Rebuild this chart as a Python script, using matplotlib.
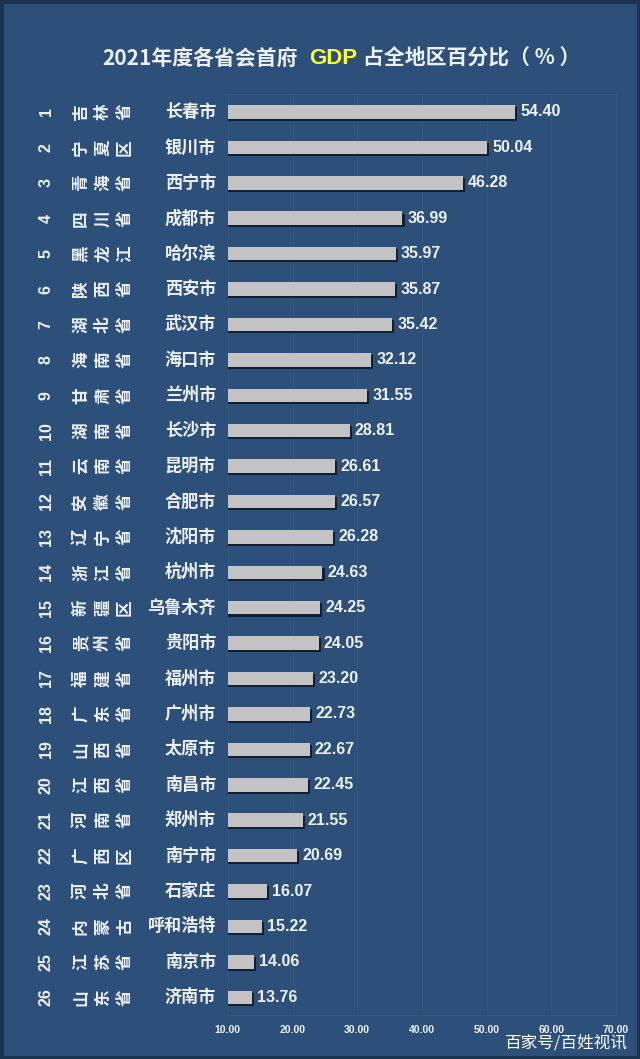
import matplotlib
matplotlib.use("Agg")
import matplotlib.pyplot as plt
import matplotlib.patheffects as pe
from matplotlib.transforms import blended_transform_factory
import numpy as np

plt.rcParams['font.family'] = ['Noto Sans CJK SC', 'DejaVu Sans']

ranks = [str(i) for i in range(1, 27)]
provinces = ['吉林省', '宁夏区', '青海省', '四川省', '黑龙江', '陕西省', '湖北省', '海南省',
             '甘肃省', '湖南省', '云南省', '安徽省', '辽宁省', '浙江省', '新疆区', '贵州省',
             '福建省', '广东省', '山西省', '江西省', '河南省', '广西区', '河北省', '内蒙古',
             '江苏省', '山东省']
cities = ['长春市', '银川市', '西宁市', '成都市', '哈尔滨', '西安市', '武汉市', '海口市',
          '兰州市', '长沙市', '昆明市', '合肥市', '沈阳市', '杭州市', '乌鲁木齐', '贵阳市',
          '福州市', '广州市', '太原市', '南昌市', '郑州市', '南宁市', '石家庄', '呼和浩特',
          '南京市', '济南市']
values = [54.40, 50.04, 46.28, 36.99, 35.97, 35.87, 35.42, 32.12, 31.55, 28.81,
          26.61, 26.57, 26.28, 24.63, 24.25, 24.05, 23.20, 22.73, 22.67, 22.45,
          21.55, 20.69, 16.07, 15.22, 14.06, 13.76]
xticks = [10, 20, 30, 40, 50, 60, 70]

bg = '#2c5079'
fg = '#eef0f2'

fig = plt.figure(figsize=(6.4, 10.59), dpi=100)
fig.patch.set_facecolor(bg)
fig.patch.set_edgecolor('#1b3250')
fig.patch.set_linewidth(5)

ax = fig.add_axes([0.356, 0.0416, 0.6065, 0.8694])
ax.set_facecolor(bg)
y = np.arange(len(values))
bars = ax.barh(y, values, height=0.38, color='#c3c3c5', zorder=3)
for b in bars:
    b.set_path_effects([pe.SimplePatchShadow(offset=(1.5, -1.5), shadow_rgbFace='#0d1a2a', alpha=0.9),
                        pe.Normal()])
ax.set_xlim(10, 70)
ax.set_ylim(len(values) - 0.5, -0.5)
ax.set_xticks(xticks)
ax.set_xticklabels(['%.2f' % t for t in xticks], family='Liberation Sans',
                   fontweight='bold', fontsize=7.5, color=fg)
ax.set_yticks([])
ax.tick_params(axis='x', length=0, pad=7)
ax.grid(axis='x', color='#36597f', linewidth=0.7, zorder=0)
for s in ax.spines.values():
    s.set_color('#36597f')
    s.set_linewidth(0.7)

for i, v in enumerate(values):
    ax.text(v + 0.8, i, '%.2f' % v, va='center', ha='left', color=fg,
            family='Liberation Sans', fontweight='bold', fontsize=11.5)

tr = blended_transform_factory(fig.transFigure, ax.transData)
for i in range(len(values)):
    ax.text(46 / 640, i, ranks[i], rotation=90, ha='center', va='center', color=fg,
            family='Liberation Sans', fontweight='bold', fontsize=11.5, transform=tr)
    for j, ch in enumerate(provinces[i]):
        ax.text((81 + 22 * j) / 640, i, ch, rotation=90, ha='center', va='center',
                color=fg, fontweight='bold', fontsize=12, transform=tr)
    ax.text(216 / 640, i, cities[i], ha='right', va='center', color=fg,
            fontweight='bold', fontsize=12.3, transform=tr)

# title in three pieces, GDP in yellow
ty = 1 - 58 / 1059
fig.text(298 / 640, ty, '2021年度各省会首府', ha='right', va='center', color=fg,
         fontweight='bold', fontsize=15)
fig.text(333 / 640, ty, 'GDP', ha='center', va='center', color='#ffff33',
         family='Liberation Sans', fontweight='bold', fontsize=16)
fig.text(363 / 640, ty, '占全地区百分比（ % ）', ha='left', va='center', color=fg,
         fontweight='bold', fontsize=15)

fig.text(628 / 640, 1 - 1043 / 1059, '百家号/百姓视讯', ha='right', va='center',
         color='white', fontsize=12)

fig.savefig('out.png', dpi=100, facecolor=fig.get_facecolor(), edgecolor=fig.get_edgecolor())
